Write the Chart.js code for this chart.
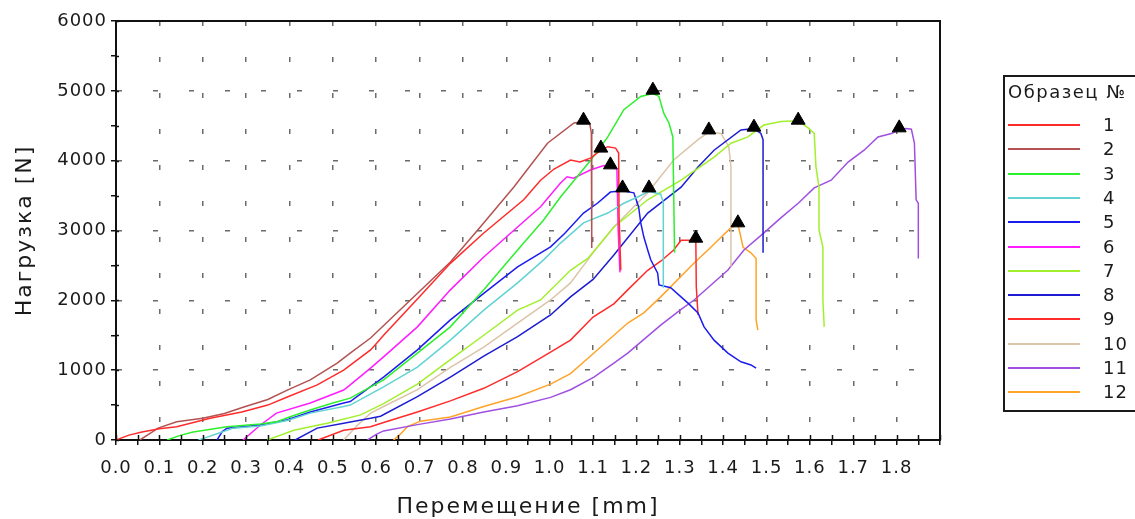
<!DOCTYPE html>
<html>
<head>
<meta charset="utf-8">
<script src="https://cdn.jsdelivr.net/npm/chart.js@4.4.0/dist/chart.umd.min.js"></script>
<style>
  html, body { margin: 0; padding: 0; background: #fff; overflow: hidden; }
  #wrap { position: relative; width: 1135px; height: 519px; }
  #legend {
    position: absolute; left: 1003px; top: 75px; width: 160px; height: 337px;
    border: 2px solid #1a1a1a; box-sizing: border-box;
    font-family: "DejaVu Sans", sans-serif; font-size: 18px; color: #1a1a1a;
  }
  #legend .title { position: absolute; left: 3px; top: 4px; white-space: nowrap; letter-spacing: 1.5px; }
  #legend .item { position: absolute; left: 0; width: 100%; height: 24px; }
  #legend .swatch { position: absolute; left: 3px; top: 11px; width: 72px; height: 2px; }
  #legend .lab { position: absolute; left: 98px; top: 0; line-height: 24px; letter-spacing: 1px; }
</style>
</head>
<body>
<div id="wrap">
  <canvas id="chart" width="1135" height="519"></canvas>
  <div id="legend"></div>
</div>
<script>
// specimen numbers (legend)
const specimens = ['1', '2', '3', '4', '5', '6', '7', '8', '9', '10', '11', '12'];

// displacement [mm] / load [N]
const x1 = [0, 0.03, 0.06, 0.10, 0.14, 0.217, 0.29, 0.35, 0.395, 0.464, 0.525, 0.587, 0.6, 0.617, 0.695, 0.771, 0.848, 0.94, 0.979, 1.01, 1.048, 1.07, 1.095, 1.118, 1.134, 1.152, 1.159, 1.160, 1.164];
const y1 = [0, 70, 115, 160, 190, 310, 400, 500, 615, 790, 1000, 1290, 1380, 1500, 2020, 2530, 2965, 3440, 3720, 3880, 4010, 3980, 4040, 4150, 4200, 4180, 4110, 3200, 2430];

const x2 = [0.055, 0.075, 0.097, 0.14, 0.2, 0.25, 0.293, 0.35, 0.395, 0.448, 0.51, 0.54, 0.587, 0.679, 0.771, 0.84, 0.917, 0.995, 1.056, 1.078, 1.092, 1.096, 1.097];
const y2 = [0, 80, 170, 260, 310, 380, 470, 580, 715, 860, 1100, 1245, 1460, 2005, 2550, 3050, 3620, 4250, 4540, 4560, 4540, 4400, 2750];

const x3 = [0.118, 0.15, 0.178, 0.256, 0.333, 0.37, 0.40, 0.448, 0.5, 0.54, 0.617, 0.695, 0.771, 0.848, 0.926, 0.986, 1.025, 1.095, 1.134, 1.171, 1.21, 1.238, 1.252, 1.263, 1.275, 1.284, 1.286, 1.288];
const y3 = [0, 70, 115, 190, 230, 260, 330, 430, 530, 600, 860, 1245, 1620, 2150, 2720, 3150, 3480, 4010, 4340, 4730, 4920, 4960, 4920, 4680, 4540, 4340, 3500, 2680];

const x4 = [0.19, 0.205, 0.233, 0.27, 0.333, 0.395, 0.448, 0.525, 0.54, 0.617, 0.695, 0.771, 0.848, 0.926, 0.986, 1.025, 1.078, 1.134, 1.171, 1.203, 1.229, 1.256, 1.262, 1.262];
const y4 = [0, 30, 90, 170, 200, 280, 385, 480, 500, 760, 1045, 1430, 1860, 2250, 2580, 2820, 3110, 3250, 3390, 3480, 3560, 3520, 3400, 2180];

const x5 = [0.233, 0.245, 0.256, 0.333, 0.395, 0.448, 0.525, 0.54, 0.617, 0.695, 0.771, 0.848, 0.926, 1.002, 1.035, 1.078, 1.11, 1.14, 1.168, 1.194, 1.205, 1.21, 1.217, 1.226, 1.233, 1.249, 1.252, 1.279, 1.319, 1.342, 1.356, 1.379, 1.411, 1.441, 1.464, 1.476];
const y5 = [0, 120, 170, 215, 290, 400, 530, 550, 900, 1290, 1720, 2100, 2480, 2765, 2960, 3250, 3390, 3550, 3570, 3540, 3340, 3110, 2910, 2720, 2580, 2390, 2220, 2180, 1960, 1820, 1620, 1430, 1245, 1120, 1075, 1030];

const x6 = [0.293, 0.333, 0.37, 0.448, 0.525, 0.54, 0.587, 0.617, 0.695, 0.771, 0.848, 0.926, 0.979, 1.025, 1.04, 1.055, 1.095, 1.125, 1.14, 1.155, 1.158, 1.162];
const y6 = [0, 215, 385, 530, 715, 790, 1030, 1190, 1620, 2150, 2620, 3050, 3340, 3680, 3770, 3750, 3870, 3930, 3910, 3880, 3000, 2400];

const x7 = [0.349, 0.41, 0.487, 0.564, 0.617, 0.695, 0.771, 0.848, 0.926, 0.979, 1.048, 1.088, 1.148, 1.226, 1.303, 1.379, 1.418, 1.457, 1.494, 1.533, 1.573, 1.596, 1.61, 1.614, 1.621, 1.621, 1.63, 1.63, 1.633];
const y7 = [0, 140, 240, 360, 520, 800, 1150, 1500, 1860, 2005, 2430, 2600, 3050, 3440, 3720, 4050, 4250, 4340, 4510, 4560, 4570, 4470, 4390, 3910, 3620, 3010, 2760, 2005, 1620];

const x8 = [0.413, 0.464, 0.525, 0.587, 0.61, 0.695, 0.771, 0.848, 0.926, 1.002, 1.048, 1.1, 1.148, 1.226, 1.303, 1.342, 1.379, 1.441, 1.471, 1.487, 1.492, 1.492];
const y8 = [0, 170, 240, 310, 340, 620, 900, 1200, 1480, 1790, 2050, 2300, 2650, 3250, 3620, 3910, 4150, 4440, 4460, 4390, 4300, 2680];

const x9 = [0.466, 0.525, 0.587, 0.617, 0.695, 0.771, 0.848, 0.926, 1.0, 1.048, 1.1, 1.148, 1.18, 1.226, 1.256, 1.286, 1.303, 1.319, 1.337, 1.338, 1.342];
const y9 = [0, 140, 190, 250, 400, 560, 740, 980, 1250, 1430, 1760, 1950, 2150, 2430, 2560, 2720, 2860, 2860, 2860, 2200, 1790];

const x10 = [0.525, 0.555, 0.587, 0.617, 0.695, 0.771, 0.848, 0.926, 1.002, 1.048, 1.1, 1.148, 1.226, 1.286, 1.342, 1.367, 1.395, 1.413, 1.418, 1.418];
const y10 = [0, 200, 385, 480, 720, 1040, 1330, 1675, 2005, 2250, 2680, 3050, 3540, 4010, 4300, 4410, 4390, 4200, 3910, 2480];

const x11 = [0.58, 0.6, 0.617, 0.695, 0.771, 0.848, 0.926, 1.002, 1.048, 1.102, 1.148, 1.18, 1.256, 1.303, 1.333, 1.411, 1.448, 1.494, 1.533, 1.573, 1.61, 1.649, 1.688, 1.725, 1.757, 1.788, 1.806, 1.822, 1.834, 1.841, 1.845, 1.85, 1.85];
const y11 = [0, 80, 130, 220, 300, 400, 490, 610, 720, 900, 1100, 1245, 1645, 1870, 2005, 2435, 2720, 2965, 3180, 3390, 3610, 3720, 3980, 4150, 4340, 4390, 4440, 4460, 4450, 4250, 3440, 3390, 2600];

const x12 = [0.64, 0.655, 0.672, 0.702, 0.771, 0.848, 0.926, 1.002, 1.048, 1.102, 1.18, 1.217, 1.256, 1.333, 1.365, 1.388, 1.418, 1.434, 1.437, 1.446, 1.464, 1.476, 1.476, 1.48];
const y12 = [0, 80, 190, 270, 330, 480, 620, 800, 950, 1245, 1675, 1820, 2050, 2535, 2720, 2860, 3040, 3080, 3010, 2760, 2680, 2600, 1720, 1575];

// peak (failure) markers
const peakX = [1.118, 1.078, 1.238, 1.229, 1.168, 1.14, 1.573, 1.471, 1.337, 1.367, 1.806, 1.434];
const peakY = [4180, 4580, 5010, 3610, 3610, 3940, 4580, 4480, 2890, 4440, 4470, 3110];

const xs = [x1, x2, x3, x4, x5, x6, x7, x8, x9, x10, x11, x12];
const ys = [y1, y2, y3, y4, y5, y6, y7, y8, y9, y10, y11, y12];

const colors = ['#ff2b2b', '#b35252', '#2cf02c', '#62d2d2', '#1c1cf0', '#ff1cff',
                '#a2f02c', '#1c1cd2', '#ff2b2b', '#dcc4a8', '#a050e0', '#ffa428'];

const datasets = specimens.map((name, i) => ({
    label: name,
    data: xs[i].map((x, j) => ({ x: x, y: ys[i][j] })),
    borderColor: colors[i],
    backgroundColor: colors[i],
    borderWidth: 1.5,
    showLine: true,
    pointRadius: 0,
    order: 1
}));

datasets.push({
    label: 'peaks',
    data: peakX.map((x, j) => ({ x: x, y: peakY[j] })),
    showLine: false,
    pointStyle: 'triangle',
    pointRadius: 8,
    backgroundColor: '#000',
    borderColor: '#000',
    borderWidth: 1,
    order: 0
});

// wider letter spacing: titles (drawn with the grid), then tick labels (drawn after the data)
const spacingPlugin = {
    id: 'spacing',
    beforeDraw(chart) { chart.ctx.letterSpacing = '2px'; },
    afterDatasetsDraw(chart) { chart.ctx.letterSpacing = '1px'; },
    afterDraw(chart) { chart.ctx.letterSpacing = '0px'; }
};

// top + right frame, plus the inner halves of the tick marks
const framePlugin = {
    id: 'frame',
    afterDraw(chart) {
        const { ctx, chartArea: a, scales } = chart;
        ctx.save();
        ctx.strokeStyle = '#111';
        ctx.lineWidth = 2;
        ctx.beginPath();
        ctx.moveTo(a.left - 1, a.top);
        ctx.lineTo(a.right, a.top);
        ctx.lineTo(a.right, a.bottom + 1);
        ctx.stroke();
        ctx.lineWidth = 1.5;
        ctx.beginPath();
        scales.x.ticks.forEach(t => {
            const px = Math.round(scales.x.getPixelForValue(t.value)) + 0.5;
            ctx.moveTo(px, a.bottom);
            ctx.lineTo(px, a.bottom - 5);
        });
        scales.y.ticks.forEach(t => {
            const py = Math.round(scales.y.getPixelForValue(t.value)) + 0.5;
            ctx.moveTo(a.left, py);
            ctx.lineTo(a.left + 3, py);
        });
        ctx.stroke();
        ctx.restore();
    }
};

const tickFont = { family: '"DejaVu Sans", sans-serif', size: 18 };
const titleFont = { family: '"DejaVu Sans", sans-serif', size: 22, lineHeight: 1 };

const chart = new Chart(document.getElementById('chart'), {
    type: 'scatter',
    data: { datasets: datasets },
    options: {
        responsive: false,
        animation: false,
        layout: { padding: { left: 0, top: 21, right: 195, bottom: 0 } },
        plugins: { legend: { display: false }, tooltip: { enabled: false } },
        scales: {
            x: {
                type: 'linear',
                min: 0,
                max: 1.9,
                afterFit: (s) => { s.height = 79; },
                ticks: {
                    stepSize: 0.05,
                    autoSkip: false,
                    maxRotation: 0,
                    padding: 13,
                    z: 1,
                    color: '#1a1a1a',
                    font: tickFont,
                    callback: (v) => {
                        const t = Math.round(v * 100);
                        return (t % 10 === 0 && t < 190) ? (t / 100).toFixed(1) : '';
                    }
                },
                grid: {
                    color: (c) => {
                        const t = Math.round(c.tick.value * 100);
                        return (t % 10 === 0 && t > 0 && t < 190) ? '#6a6a6a' : 'rgba(0,0,0,0)';
                    },
                    lineWidth: 1.5,
                    tickColor: '#111',
                    tickLength: 5,
                    tickWidth: 1.5
                },
                border: { display: true, color: '#111', width: 2, dash: [5, 31], dashOffset: 0 },
                title: { display: true, text: 'Перемещение [mm]', color: '#1a1a1a', font: titleFont, padding: { top: 0, bottom: 1 } }
            },
            y: {
                type: 'linear',
                min: 0,
                max: 6000,
                afterFit: (s) => { s.width = 116; },
                ticks: {
                    stepSize: 500,
                    autoSkip: false,
                    padding: 4,
                    z: 1,
                    color: '#1a1a1a',
                    font: tickFont,
                    callback: (v) => (v % 1000 === 0 ? String(v) : '')
                },
                grid: {
                    color: (c) => {
                        const v = c.tick.value;
                        return (v % 1000 === 0 && v > 0 && v < 6000) ? '#6a6a6a' : 'rgba(0,0,0,0)';
                    },
                    lineWidth: 1.5,
                    tickColor: '#111',
                    tickLength: 5,
                    tickWidth: 1.5
                },
                border: { display: true, color: '#111', width: 2, dash: [5, 31], dashOffset: 0 },
                title: { display: true, text: 'Нагрузка [N]', color: '#1a1a1a', font: titleFont, padding: { top: 14, bottom: 0 } }
            }
        }
    },
    plugins: [spacingPlugin, framePlugin]
});

// legend box built from the chart datasets
const legend = document.getElementById('legend');
const title = document.createElement('div');
title.className = 'title';
title.textContent = 'Образец №';
legend.appendChild(title);
chart.data.datasets.slice(0, specimens.length).forEach((ds, i) => {
    const item = document.createElement('div');
    item.className = 'item';
    item.style.top = (36 + i * 24.3) + 'px';
    const sw = document.createElement('div');
    sw.className = 'swatch';
    sw.style.background = ds.borderColor;
    const lab = document.createElement('div');
    lab.className = 'lab';
    lab.textContent = ds.label;
    item.appendChild(sw);
    item.appendChild(lab);
    legend.appendChild(item);
});
</script>
</body>
</html>
